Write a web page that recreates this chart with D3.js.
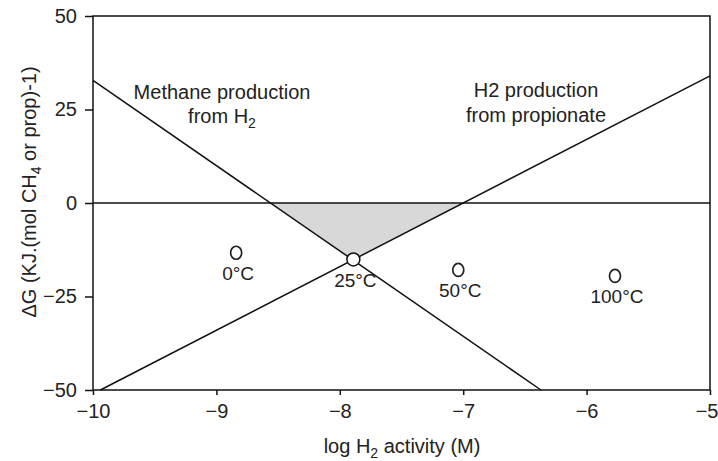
<!DOCTYPE html>
<html>
<head>
<meta charset="utf-8">
<script src="https://cdn.jsdelivr.net/npm/d3@7"></script>
<style>
  body { margin: 0; background: #fff; }
  text { font-family: "Liberation Sans", Arial, sans-serif; fill: #222; }
</style>
</head>
<body>
<script>
// axis ticks
var xTicks = [-10, -9, -8, -7, -6, -5];
var yTicks = [-50, -25, 0, 25, 50];

// the two reaction lines (log H2, dG)
var methaneX = [-10, -6.37];
var methaneY = [32.8, -50];
var propX = [-9.94, -5];
var propY = [-50, 34];

// temperature points
var temps = ['0', '25', '50', '100'];
var tempX = [-8.84, -7.89, -7.04, -5.77];
var tempY = [-13.3, -15.1, -17.9, -19.5];

var W = 718, H = 461;
var x = d3.scaleLinear().domain([-10, -5]).range([93, 710]);
var y = d3.scaleLinear().domain([-50, 50]).range([390, 16]);

var svg = d3.select('body').append('svg')
  .attr('width', W).attr('height', H);

function zeroOf(xs, ys) {
  var t = (0 - ys[0]) / (ys[1] - ys[0]);
  return xs[0] + t * (xs[1] - xs[0]);
}

// shaded triangle between the lines and zero
var m0 = zeroOf(methaneX, methaneY), p0 = zeroOf(propX, propY);
var mA = (methaneY[1] - methaneY[0]) / (methaneX[1] - methaneX[0]);
var pA = (propY[1] - propY[0]) / (propX[1] - propX[0]);
var ix = (pA * p0 - mA * m0) / (pA - mA);
var iy = mA * (ix - m0);
svg.append('path')
  .attr('d', d3.line().x(d => x(d[0])).y(d => y(d[1]))([[m0, 0], [p0, 0], [ix, iy]]) + 'Z')
  .attr('fill', '#d8d8d8');

// zero line
svg.append('line')
  .attr('x1', x(-10)).attr('x2', x(-5))
  .attr('y1', y(0)).attr('y2', y(0))
  .attr('stroke', '#111').attr('stroke-width', 1.5);

var ln = d3.line().x(d => x(d[0])).y(d => y(d[1]));
svg.append('path').attr('d', ln(d3.zip(methaneX, methaneY)))
  .attr('fill', 'none').attr('stroke', '#111').attr('stroke-width', 1.5);
svg.append('path').attr('d', ln(d3.zip(propX, propY)))
  .attr('fill', 'none').attr('stroke', '#111').attr('stroke-width', 1.5);

// frame
svg.append('rect')
  .attr('x', x(-10)).attr('y', y(50))
  .attr('width', x(-5) - x(-10)).attr('height', y(-50) - y(50))
  .attr('fill', 'none').attr('stroke', '#111').attr('stroke-width', 1.5);

// axes
var gx = svg.append('g').attr('transform', 'translate(0,' + y(-50) + ')')
  .call(d3.axisBottom(x).tickValues(xTicks).tickSize(5).tickPadding(9)
    .tickFormat(d => d3.format('d')(d).replace('-', '\u2212')));
var gy = svg.append('g').attr('transform', 'translate(' + x(-10) + ',0)')
  .call(d3.axisLeft(y).tickValues(yTicks).tickSize(8).tickPadding(8)
    .tickFormat(d => d3.format('d')(d).replace('-', '\u2212')));
[gx, gy].forEach(function(g) {
  g.select('.domain').remove();
  g.selectAll('line').attr('stroke', '#111').attr('stroke-width', 1.5);
  g.selectAll('text').attr('font-size', 20).attr('fill', '#222')
    .attr('font-family', '"Liberation Sans", Arial, sans-serif');
});
// keep the last x label inside the page
gx.selectAll('.tick').filter(d => d === -5).select('text')
  .attr('text-anchor', 'end').attr('x', 8);

// temperature markers
temps.forEach(function(t, i) {
  if (i === 1) {
    svg.append('circle').attr('cx', x(tempX[i])).attr('cy', y(tempY[i])).attr('r', 6.5)
      .attr('fill', '#fff').attr('stroke', '#111').attr('stroke-width', 1.5);
  } else {
    svg.append('ellipse').attr('cx', x(tempX[i])).attr('cy', y(tempY[i]))
      .attr('rx', 5.5).attr('ry', 6.5)
      .attr('fill', 'none').attr('stroke', '#222').attr('stroke-width', 1.7);
  }
  svg.append('text')
    .attr('x', x(tempX[i]) + 2).attr('y', y(tempY[i]) + (i === 1 ? 28 : 27))
    .attr('text-anchor', 'middle').attr('font-size', 19)
    .text(t + '\u00B0C');
});

// annotations
var a1 = svg.append('text').attr('text-anchor', 'middle').attr('font-size', 20);
a1.append('tspan').attr('x', 222).attr('y', 99).text('Methane production');
var l2 = a1.append('tspan').attr('x', 222).attr('y', 123).text('from H');
l2.append('tspan').attr('font-size', 14).attr('dy', 5).text('2');

var a2 = svg.append('text').attr('text-anchor', 'middle').attr('font-size', 20);
a2.append('tspan').attr('x', 536).attr('y', 97).text('H2 production');
a2.append('tspan').attr('x', 536).attr('y', 122).text('from propionate');

// axis titles
var xt = svg.append('text').attr('x', 402).attr('y', 453)
  .attr('text-anchor', 'middle').attr('font-size', 20);
xt.append('tspan').text('log H');
xt.append('tspan').attr('font-size', 14).attr('dy', 5).text('2');
xt.append('tspan').attr('dy', -5).text(' activity (M)');

var yt = svg.append('text')
  .attr('transform', 'translate(36,192) rotate(-90)')
  .attr('text-anchor', 'middle').attr('font-size', 20);
yt.append('tspan').text('\u0394G (KJ.(mol CH');
yt.append('tspan').attr('font-size', 14).attr('dy', 5).text('4');
yt.append('tspan').attr('dy', -5).text(' or prop)-1)');
</script>
</body>
</html>
